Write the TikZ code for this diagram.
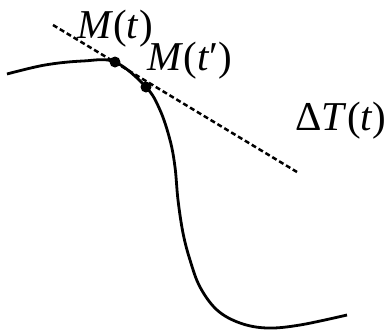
\documentclass[tikz,border=0pt]{standalone}
\usepackage{fontspec}
\setmainfont{Liberation Serif}
\begin{document}
\begin{tikzpicture}[x=1pt,y=-1pt,
  curve/.style={line width=2.8pt},
  tangent/.style={line width=2.5pt,dash pattern=on 5pt off 3pt},
  dot/.style={circle,fill=black,inner sep=0pt,minimum size=11pt},
  lbl/.style={font=\fontsize{41}{44}\selectfont,inner sep=0pt}]
\useasboundingbox (0,0) rectangle (388,333);
\node[dot] (m1) at (115,62) {};
\node[dot] (m2) at (146,87) {};
\coordinate (d1) at (53,25);
\coordinate (d2) at (297,172);
\draw[tangent] (d1) -- (d2);
\draw[curve] plot[smooth,tension=0.6] coordinates {(7,74) (45,65) (83,61) (115,62) (146,87) (160,110) (170,140) (175,167) (178,200) (183,233) (190,260) (200,287) (217,310) (240,323) (267,328) (300,325) (347,315)};
\node[lbl] (l1) at (115,29) {\textit{M}(\textit{t})};
\node[lbl] (l2) at (190,61) {\textit{M}(\textit{t}′)};
\node[lbl] (l3) at (341,121) {Δ\textit{T}(\textit{t})};
\end{tikzpicture}
\end{document}
